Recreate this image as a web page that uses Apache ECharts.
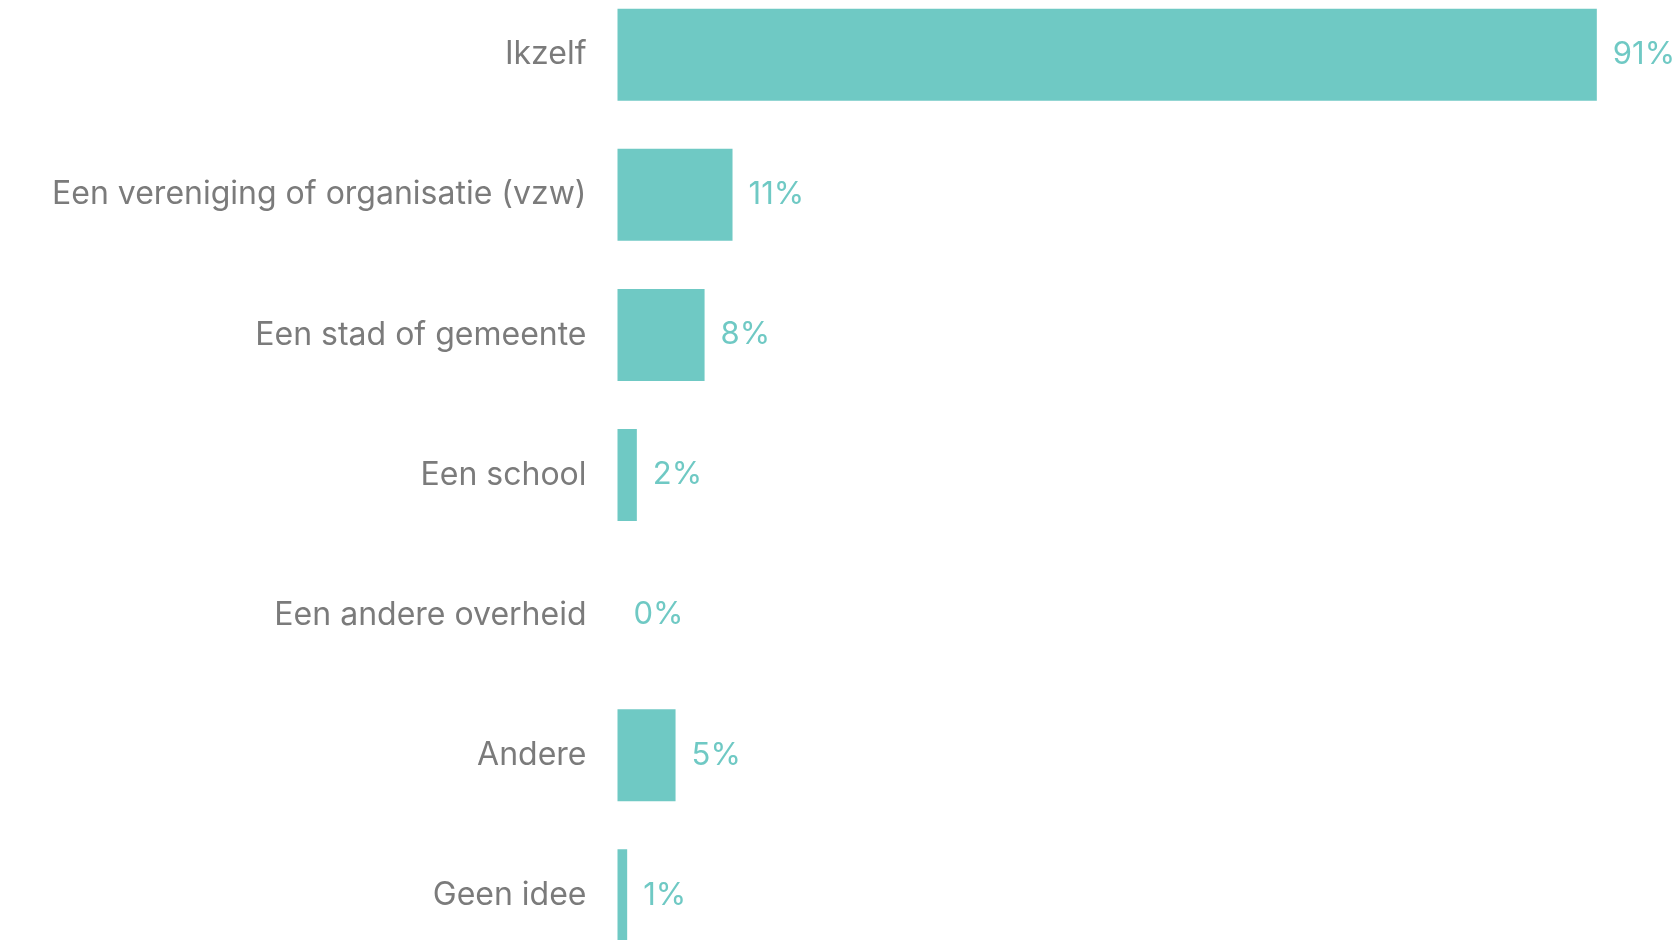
<!DOCTYPE html>
<html>
<head>
<meta charset="utf-8">
<script src="https://cdn.jsdelivr.net/npm/echarts@6/dist/echarts.min.js"></script>
<style>
	html, body { margin: 0; padding: 0; background: #fff; }
	#main { width: 1678px; height: 940px; }
</style>
</head>
<body>
<div id="main"></div>
<script>
	// antwoordcategorieën, van boven naar onder
	var categories = ['Ikzelf', 'Een vereniging of organisatie (vzw)', 'Een stad of gemeente', 'Een school', 'Een andere overheid', 'Andere', 'Geen idee'];
	var shares = [91.1, 10.7, 8.1, 1.8, 0, 5.4, 0.9];

	var chart = echarts.init(document.getElementById('main'));

	var option = {
		animation: false,
		grid: {
			left: 617.5,
			right: -14.5,
			top: -15.4,
			bottom: -25.4,
			containLabel: false,
			outerBoundsMode: 'none'
		},
		xAxis: {
			type: 'value',
			min: 0,
			max: 100,
			show: false
		},
		yAxis: {
			type: 'category',
			inverse: true,
			data: categories,
			axisLine: { show: false },
			axisTick: { show: false },
			splitLine: { show: false },
			axisLabel: {
				margin: 31,
				fontFamily: 'Inter',
				fontSize: 32,
				color: '#7b7b7b',
				padding: [7, 0, 0, 0]
			}
		},
		series: [{
			type: 'bar',
			data: shares,
			barWidth: 92,
			itemStyle: { color: '#6fc9c4' },
			label: {
				show: true,
				position: 'right',
				distance: 16,
				fontFamily: 'Inter',
				fontSize: 31,
				color: '#6fc9c4',
				padding: [8, 0, 0, 0],
				formatter: function (p) { return Math.round(p.value) + '%'; }
			}
		}]
	};

	chart.setOption(option);
</script>
</body>
</html>
